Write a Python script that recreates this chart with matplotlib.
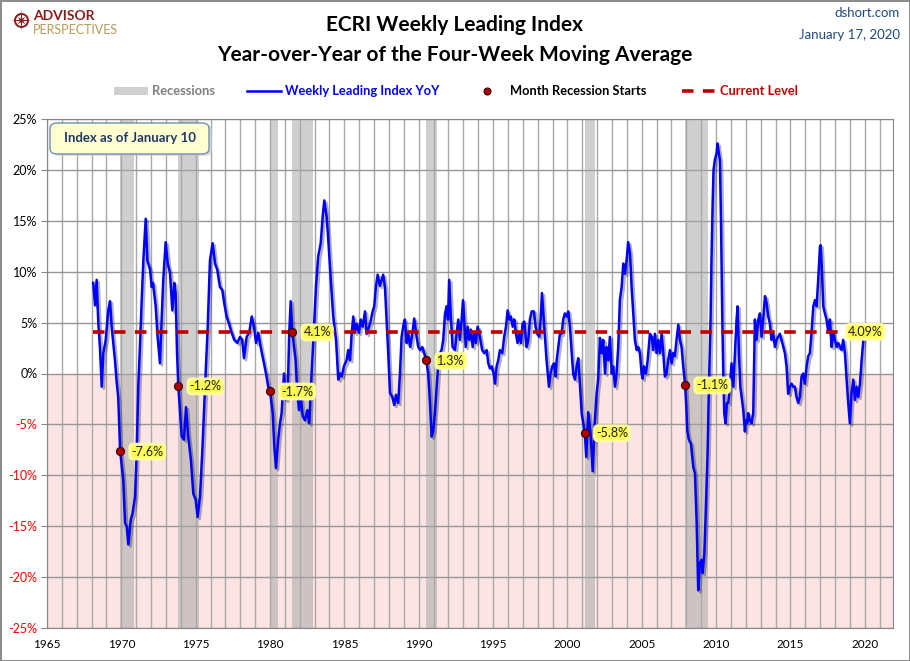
import matplotlib
matplotlib.use("Agg")
import matplotlib.pyplot as plt
import matplotlib.patheffects as pe
from matplotlib.lines import Line2D
from matplotlib.patches import Rectangle, FancyBboxPatch, Circle, Polygon
import numpy as np

plt.rcParams['font.family'] = ['Lato', 'DejaVu Sans']

# ECRI WLI YoY of 4-week MA
wli_years = [
    1968.11, 1968.23, 1968.34, 1968.45, 1968.56, 1968.68, 1968.79, 1968.95, 1969.12, 1969.24,
    1969.35, 1969.57, 1969.69, 1969.79, 1969.92, 1970.13, 1970.25, 1970.36, 1970.47, 1970.63,
    1970.76, 1970.92, 1971.03, 1971.14, 1971.25, 1971.37, 1971.48, 1971.64, 1971.75, 1971.93,
    1972.04, 1972.13, 1972.31, 1972.44, 1972.60, 1972.71, 1972.82, 1972.98, 1973.12, 1973.27,
    1973.43, 1973.56, 1973.65, 1973.74, 1973.83, 1974.06, 1974.21, 1974.35, 1974.50, 1974.68,
    1974.84, 1975.00, 1975.13, 1975.29, 1975.44, 1975.63, 1975.81, 1975.96, 1976.14, 1976.30,
    1976.45, 1976.63, 1976.79, 1976.92, 1977.08, 1977.24, 1977.42, 1977.60,
    1977.80, 1977.98, 1978.13, 1978.25, 1978.43, 1978.60, 1978.77, 1978.92, 1979.06, 1979.21,
    1979.37, 1979.55, 1979.73, 1979.88, 1980.00, 1980.18, 1980.29, 1980.40, 1980.55, 1980.67,
    1980.78, 1980.94, 1981.07, 1981.19, 1981.29, 1981.39, 1981.45, 1981.50, 1981.72, 1981.83,
    1981.95, 1982.06, 1982.20, 1982.35, 1982.51, 1982.64, 1982.75, 1982.87, 1982.98, 1983.09,
    1983.24, 1983.41, 1983.54, 1983.65, 1983.81, 1983.92, 1984.03, 1984.15, 1984.25, 1984.44,
    1984.59, 1984.70, 1984.82, 1984.97, 1985.15, 1985.26, 1985.38, 1985.49, 1985.60, 1985.71,
    1985.83, 1985.98, 1986.10, 1986.23, 1986.39, 1986.50, 1986.67, 1986.79, 1986.90, 1987.01,
    1987.12, 1987.24, 1987.39, 1987.61, 1987.73, 1987.84, 1987.95,
    1988.07, 1988.22, 1988.36, 1988.47, 1988.62, 1988.74, 1988.85, 1988.99, 1989.07, 1989.19,
    1989.30, 1989.43, 1989.57, 1989.70, 1989.86, 1989.97, 1990.10, 1990.24, 1990.37, 1990.50,
    1990.64, 1990.76, 1990.87, 1990.98, 1991.09, 1991.21, 1991.32, 1991.43, 1991.54, 1991.65,
    1991.77, 1991.88, 1991.97, 1992.05, 1992.17, 1992.28, 1992.44, 1992.55, 1992.66, 1992.77,
    1992.89, 1992.98, 1993.06, 1993.16, 1993.29, 1993.40, 1993.51, 1993.63, 1993.74, 1993.85,
    1993.96, 1994.12, 1994.27, 1994.41, 1994.57, 1994.68, 1994.79, 1994.91, 1995.04, 1995.13,
    1995.24, 1995.35, 1995.46, 1995.62, 1995.75, 1995.87, 1995.98, 1996.09, 1996.20, 1996.32,
    1996.43, 1996.54, 1996.65, 1996.76, 1996.88, 1996.99, 1997.10,
    1997.26, 1997.37, 1997.48, 1997.60, 1997.75, 1997.86, 1997.97, 1998.11, 1998.20, 1998.29,
    1998.38, 1998.49, 1998.60, 1998.76, 1998.87, 1998.98, 1999.10, 1999.21, 1999.28, 1999.39,
    1999.50, 1999.61, 1999.72, 1999.83, 1999.95, 2000.06, 2000.17, 2000.29, 2000.39, 2000.51,
    2000.62, 2000.73, 2000.84, 2000.96, 2001.17, 2001.27, 2001.40, 2001.56, 2001.70, 2001.85,
    2001.97, 2002.07, 2002.19, 2002.30, 2002.41, 2002.53, 2002.64, 2002.75, 2002.86, 2002.98,
    2003.08, 2003.20, 2003.31, 2003.42, 2003.53, 2003.65, 2003.76, 2003.87, 2003.98, 2004.09,
    2004.21, 2004.32, 2004.43, 2004.54, 2004.66, 2004.77, 2004.88, 2004.99, 2005.06, 2005.15,
    2005.28, 2005.40, 2005.55, 2005.67, 2005.77, 2005.89, 2006.00, 2006.11, 2006.22, 2006.34,
    2006.45,
    2006.56, 2006.67, 2006.78, 2006.90, 2007.01, 2007.12, 2007.23, 2007.34, 2007.46, 2007.57,
    2007.68, 2007.79, 2007.92, 2008.00, 2008.06, 2008.17, 2008.31, 2008.47, 2008.58, 2008.69,
    2008.80, 2008.91, 2009.03, 2009.09, 2009.21, 2009.29, 2009.43, 2009.52, 2009.63, 2009.70,
    2009.77, 2009.83, 2009.92, 2010.03, 2010.10, 2010.19, 2010.26, 2010.33, 2010.42, 2010.48,
    2010.55, 2010.64, 2010.73, 2010.82, 2010.93, 2011.04, 2011.16, 2011.27, 2011.38, 2011.45,
    2011.54, 2011.63, 2011.72, 2011.83, 2011.94, 2012.01, 2012.10, 2012.16, 2012.28, 2012.39,
    2012.50, 2012.61, 2012.72, 2012.84, 2012.95, 2013.06, 2013.17, 2013.29, 2013.40, 2013.51,
    2013.62, 2013.73, 2013.85, 2013.96, 2014.07, 2014.18, 2014.29, 2014.40, 2014.52, 2014.63,
    2014.74, 2014.85, 2014.97, 2015.08, 2015.19, 2015.30, 2015.41, 2015.53, 2015.64, 2015.75,
    2015.86, 2015.97, 2016.09, 2016.20, 2016.31, 2016.42, 2016.54, 2016.65,
    2016.76, 2016.87, 2016.99, 2017.03, 2017.10, 2017.21, 2017.32, 2017.43, 2017.55, 2017.66,
    2017.77, 2017.88, 2017.99, 2018.11, 2018.22, 2018.33, 2018.44, 2018.55, 2018.67, 2018.78,
    2018.89, 2019.00, 2019.11, 2019.23, 2019.34, 2019.45, 2019.56, 2019.68, 2019.79, 2019.92,
    2020.03,
]
wli_yoy = [
    8.9, 6.7, 9.2, 5.0, 2.6, -1.3, 2.0, 3.3, 6.2, 7.1,
    4.6, 1.3, -0.9, -2.3, -7.6, -10.5, -14.7, -15.0, -16.8, -14.4,
    -13.7, -12.1, -7.8, -1.3, 2.6, 7.2, 11.1, 15.2, 11.1, 10.2,
    8.5, 8.9, 6.6, 3.6, 1.0, 5.3, 9.2, 12.9, 10.8, 9.9,
    6.2, 8.9, 7.9, 2.3, -1.2, -6.2, -6.5, -3.3, -6.2, -8.5,
    -11.8, -12.4, -14.1, -12.1, -7.8, -1.3, 4.6, 11.1, 12.8, 10.8,
    10.2, 8.5, 8.2, 6.9, 5.6, 4.9, 4.0, 3.3,
    3.0, 3.6, 3.3, 1.5, 3.6, 4.0, 5.6, 4.6, 3.0, 4.0,
    2.6, 1.3, 0.0, -1.3, -1.7, -3.9, -7.2, -9.3, -6.5, -4.9,
    -3.9, 0.0, -2.6, -1.9, 3.9, 7.1, 5.5, 4.1, 1.3, -1.9,
    -3.6, -2.3, -4.2, -4.6, -3.6, -4.9, -1.3, 2.0, 5.3, 8.5,
    11.5, 12.8, 15.4, 17.0, 15.4, 13.1, 10.5, 7.9, 5.6, 3.3,
    -0.6, 0.0, -0.3, 0.7, 1.3, 2.3, 1.3, 3.9, 5.6, 4.0,
    4.9, 4.0, 5.3, 4.6, 6.1, 3.9, 4.6, 5.3, 6.1, 6.6,
    8.5, 9.7, 8.6, 9.7, 8.5, 5.3, 2.0,
    -1.9, -2.3, -3.1, -2.1, -2.9, 0.0, 3.6, 4.9, 5.3, 3.0,
    3.9, 2.6, 3.9, 5.4, 3.6, 2.6, 2.3, 2.6, 2.0, 1.3,
    0.0, -2.9, -6.2, -5.6, -3.9, -1.3, 1.0, 2.0, 2.3, 3.3,
    5.9, 6.6, 5.3, 9.2, 5.3, 2.6, 2.3, 3.9, 5.3, 3.3,
    5.3, 7.2, 5.3, 2.6, 4.6, 3.3, 4.3, 2.6, 3.9, 3.0,
    4.6, 3.6, 2.3, 2.0, 2.3, 1.0, 0.5, 0.7, 0.0, -1.0,
    0.7, 1.3, 2.3, 2.0, 3.6, 4.6, 6.2, 5.3, 5.6, 4.6,
    5.3, 3.9, 3.0, 3.9, 3.0, 4.9, 5.1,
    2.6, 3.3, 5.3, 6.1, 6.1, 4.6, 3.9, 3.6, 5.3, 7.9,
    5.9, 3.6, 1.3, -1.3, 0.0, 0.7, 1.0, -0.3, 1.3, 2.6,
    3.9, 3.9, 5.3, 5.9, 5.6, 6.1, 4.6, 2.0, 0.0, -0.6,
    0.7, 1.5, -1.0, -3.9, -5.8, -8.2, -3.8, -5.9, -9.6, -4.6,
    -1.9, -0.6, 3.5, 2.0, 3.3, 0.0, 2.6, 1.3, 3.6, 0.0,
    0.7, -1.3, 0.0, 2.6, 7.2, 8.5, 10.8, 9.8, 11.1, 12.9,
    11.8, 8.5, 5.9, 3.3, 2.3, 2.6, 2.0, 0.0, -0.5, 0.7,
    0.0, 1.3, 3.9, 3.6, 2.3, 3.9, 2.0, 3.3, 2.0, 3.9,
    2.0,
    -0.3, 0.0, 1.3, 2.3, 1.0, 2.0, 1.7, 3.3, 4.8, 3.3,
    2.6, 0.7, -1.1, -3.3, -5.6, -6.5, -6.9, -9.2, -9.8, -14.4,
    -21.3, -18.6, -18.3, -19.6, -17.7, -14.4, -7.8, -1.3, 5.3, 11.8,
    16.7, 20.0, 21.0, 21.6, 22.6, 21.6, 21.0, 15.1, 5.3, 0.4,
    -3.9, -4.9, -2.9, -2.9, -1.3, 1.0, -1.3, 2.0, 5.3, 6.6,
    2.0, -1.3, -2.3, -3.6, -5.7, -4.6, -4.9, -3.9, -4.6, -4.9,
    -3.9, 5.3, 3.3, 5.3, 5.9, 3.6, 5.3, 7.6, 6.9, 5.6,
    4.9, 3.3, 3.9, 2.6, 3.3, 3.6, 3.9, 3.3, 2.6, 2.0,
    0.7, -2.0, -1.3, -1.0, -1.3, -1.3, -2.3, -2.9, -2.3, -0.3,
    0.0, -1.0, 0.7, 1.7, 2.0, 4.0, 6.6, 7.2,
    6.6, 9.2, 12.5, 12.6, 10.8, 6.6, 5.9, 5.3, 4.0, 5.3,
    2.6, 4.0, 3.3, 2.6, 3.0, 2.6, 2.3, 3.3, 2.0, -0.6,
    -2.9, -4.9, -2.0, -0.6, -2.6, -1.3, -2.3, -1.0, 1.3, 3.5,
    4.09,
]

current_level = 4.09

rec_start = [1969.92, 1973.83, 1980.00, 1981.50, 1990.50, 2001.17, 2007.92]
rec_end = [1970.87, 1975.21, 1980.54, 1982.87, 1991.21, 2001.87, 2009.46]
rec_start_vals = [-7.6, -1.2, -1.7, 4.1, 1.3, -5.8, -1.1]

x_ticks = list(range(1965, 2021, 5))
y_ticks = list(range(-25, 26, 5))

W, H = 910, 661


def fx(px):
    return px / W


def fy(py):
    return 1 - py / H


fig = plt.figure(figsize=(W / 100, H / 100), dpi=100)
fig.patch.set_facecolor("white")
fig.patch.set_edgecolor("#8c8c8c")
fig.patch.set_linewidth(2)

ax = fig.add_axes([fx(47), fy(628), fx(893) - fx(47), fy(119) - fy(628)])
ax.set_xlim(1965, 2021.9)
ax.set_ylim(-25, 25)
ax.set_axisbelow(True)

ax.axhspan(-25, 0, color="#fde4e4", lw=0, zorder=0)
for s, e in zip(rec_start, rec_end):
    ax.axvspan(s, e, color="#a8a8a8", alpha=0.55, lw=0, zorder=1)

ax.set_xticks(x_ticks)
ax.set_xticks(range(1965, 2022), minor=True)
ax.set_yticks(y_ticks)
ax.grid(which="both", axis="x", color="#a8a8a8", lw=1)
ax.grid(which="major", axis="y", color="#969696", lw=1)
ax.set_yticklabels([f"{v}%" for v in y_ticks], fontsize=9)
for lab, v in zip(ax.get_yticklabels(), y_ticks):
    lab.set_color("#ff0000" if v < 0 else "black")
ax.set_xticklabels([str(v) for v in x_ticks], fontsize=8.5)
ax.tick_params(axis="y", length=4, color="#868686", pad=3)
ax.tick_params(axis="x", which="both", length=0, pad=8)
for sp in ax.spines.values():
    sp.set_color("#868686")

ax.plot(wli_years, wli_yoy, color="#0000ff", lw=1.8, zorder=4,
        path_effects=[pe.SimpleLineShadow(offset=(1.5, -1.5), alpha=0.3, shadow_color="k"),
                      pe.Normal()])

ax.plot([wli_years[0], wli_years[-1]], [current_level, current_level],
        color="#c00000", lw=2.6, dashes=(3.2, 2.6), zorder=5)

ax.plot(rec_start, rec_start_vals, "o", ms=5.8, mfc="#b00000", mec="#300000",
        mew=0.8, zorder=6)

label_box = dict(boxstyle="round,pad=0.12,rounding_size=0.3", fc="#ffff4d", ec="#ffffa0",
                 lw=2, alpha=0.95)
for x, v in zip(rec_start, rec_start_vals):
    ax.annotate(f"{v:.1f}%", (x, v), xytext=(8, -0.5), textcoords="offset points",
                ha="left", va="center", fontsize=9, color="#202020", bbox=label_box,
                zorder=7)
ax.annotate(f"{current_level:.2f}%", (wli_years[-1], current_level), xytext=(0, 0),
            textcoords="offset points", ha="center", va="center", fontsize=9,
            color="#202020", bbox=label_box, zorder=7)

# "Index as of" box
shadow = FancyBboxPatch((fx(53), fy(156)), fx(209) - fx(50), fy(123) - fy(154),
                        boxstyle="round,pad=0,rounding_size=0.008", transform=fig.transFigure,
                        fc="#c8c8c8", ec="none", alpha=0.6, zorder=8)
box = FancyBboxPatch((fx(50), fy(154)), fx(209) - fx(50), fy(123) - fy(154),
                     boxstyle="round,pad=0,rounding_size=0.008", transform=fig.transFigure,
                     fc="#ffffd2", ec="#6f8fb5", lw=1.0, zorder=9)
fig.add_artist(shadow)
fig.add_artist(box)
fig.text(fx(129.5), fy(138.5), "Index as of January 10", ha="center", va="center",
         fontsize=9.5, fontweight="bold", color="#1f3864", zorder=10)

# titles
fig.text(0.5, fy(25), "ECRI Weekly Leading Index", ha="center", va="center",
         fontsize=15, fontweight="bold", color="black")
fig.text(0.5, fy(55), "Year-over-Year of the Four-Week Moving Average", ha="center",
         va="center", fontsize=15, fontweight="bold", color="black")
fig.text(fx(900), fy(13), "dshort.com", ha="right", va="center", fontsize=9.5,
         color="#1f497d")
fig.text(fx(900), fy(35), "January 17, 2020", ha="right", va="center", fontsize=9.5,
         color="#1f497d")

# legend row
ly = fy(91)
fig.add_artist(Rectangle((fx(114), fy(95)), fx(148) - fx(114), fy(87) - fy(95),
                         transform=fig.transFigure, fc="#d0d0d0", ec="none"))
fig.text(fx(152), ly, "Recessions", ha="left", va="center", fontsize=9.3,
         fontweight="bold", color="#7f7f7f")
fig.add_artist(Line2D([fx(247), fx(281)], [ly, ly], transform=fig.transFigure,
                      color="#0000ff", lw=1.8))
fig.text(fx(285), ly, "Weekly Leading Index YoY", ha="left", va="center", fontsize=9.3,
         fontweight="bold", color="#0000ff")
fig.add_artist(Line2D([fx(487)], [ly], transform=fig.transFigure, marker="o", ms=5,
                      mfc="#b00000", mec="#300000", mew=0.8, lw=0))
fig.text(fx(510), ly, "Month Recession Starts", ha="left", va="center", fontsize=9.3,
         fontweight="bold", color="black")
fig.add_artist(Line2D([fx(682), fx(715)], [ly, ly], transform=fig.transFigure,
                      color="#c00000", lw=2.6, dashes=(3.2, 2.6)))
fig.text(fx(720), ly, "Current Level", ha="left", va="center", fontsize=9.3,
         fontweight="bold", color="#c00000")

# logo
lax = fig.add_axes([fx(11), fy(31), fx(32) - fx(11), fy(10) - fy(31)])
lax.set_xlim(-1, 1)
lax.set_ylim(-1, 1)
lax.set_aspect("equal")
lax.axis("off")
lax.add_patch(Circle((0, 0), 0.62, fill=False, ec="#8b1c1c", lw=1.4))
ang = np.arange(16) * np.pi / 8
rad = np.where(np.arange(16) % 4 == 0, 1.0, np.where(np.arange(16) % 2 == 0, 0.55, 0.18))
lax.add_patch(Polygon(np.c_[rad * np.sin(ang), rad * np.cos(ang)], closed=True,
                      fc="#8b1c1c", ec="none"))
fig.text(fx(33), fy(20.5), "ADVISOR", ha="left", va="baseline", fontsize=10,
         fontweight="bold", color="#8b1c1c")
fig.text(fx(33), fy(33.5), "PERSPECTIVES", ha="left", va="baseline", fontsize=9,
         color="#b59a5a")

fig.savefig("out.png", dpi=100, facecolor="white", edgecolor=fig.get_edgecolor())
